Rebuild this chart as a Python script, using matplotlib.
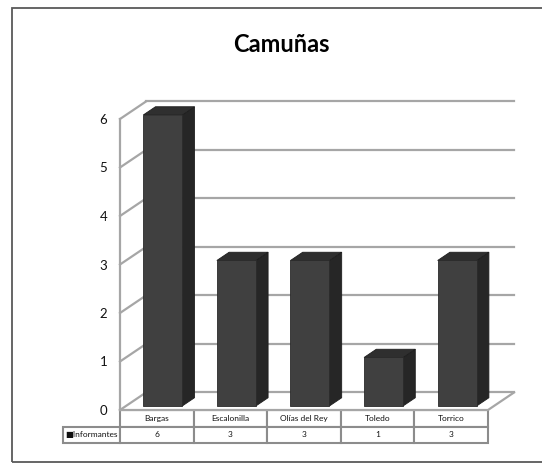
import numpy as np
import matplotlib.pyplot as plt
from matplotlib.patches import Polygon, Rectangle
from matplotlib.lines import Line2D

# datos
pueblos = ['Bargas', 'Escalonilla', 'Olías del Rey', 'Toledo', 'Torrico']
informantes = [6, 3, 3, 1, 3]
serie = 'Informantes'
titulo = 'Camuñas'
ymax = 6

plt.rcParams['font.family'] = ['Lato', 'DejaVu Sans']

W, H = 542, 466
fig = plt.figure(figsize=(W / 100, H / 100), dpi=100)

# ejes del plano frontal (en pixeles de la figura)
x0, x1, y0, y1 = 120, 488, 410, 119
ax = fig.add_axes([x0 / W, 1 - y0 / H, (x1 - x0) / W, (y0 - y1) / H])
n = len(pueblos)
ax.set_xlim(0, n)
ax.set_ylim(0, ymax)
for s in ax.spines.values():
    s.set_visible(False)
ax.set_xticks([])
ax.set_yticks(range(ymax + 1))
ax.tick_params(axis='y', length=0, pad=9, labelsize=9.5, labelcolor='#111111')

# desplazamiento de profundidad (perspectiva oblicua)
ddx, ddy = 0.353, 0.361
def p(u, v, d):
    return (u + d * ddx, v + d * ddy)

gris = '#a6a6a6'
lw = 1.6

# pared del fondo, pared izquierda y suelo
ax.add_patch(Polygon([p(0, 0, 1), p(n, 0, 1), p(n, ymax, 1), p(0, ymax, 1)],
                     closed=True, fc='white', ec='none', clip_on=False, zorder=1))
ax.add_patch(Polygon([p(0, 0, 0), p(n, 0, 0), p(n, 0, 1), p(0, 0, 1)],
                     closed=True, fc='white', ec='none', clip_on=False, zorder=1))
for v in range(ymax + 1):
    a, b = p(0, v, 1), p(n, v, 1)
    ax.add_line(Line2D([a[0], b[0]], [a[1], b[1]], color=gris, lw=lw, clip_on=False, zorder=2))
    a, b = p(0, v, 0), p(0, v, 1)
    ax.add_line(Line2D([a[0], b[0]], [a[1], b[1]], color=gris, lw=lw, clip_on=False, zorder=2))
ax.add_line(Line2D([0, 0], [0, ymax], color=gris, lw=lw, clip_on=False, zorder=2))
a, b = p(n, 0, 0), p(n, 0, 1)
ax.add_line(Line2D([0, n, b[0]], [0, 0, b[1]], color=gris, lw=lw, clip_on=False, zorder=2))

# columnas 3D
ancho = 0.53
df, db = 0.23, 0.70
for i, h in enumerate(informantes):
    u0 = i + 0.5 - ancho / 2
    u1 = u0 + ancho
    frente = [p(u0, 0, df), p(u1, 0, df), p(u1, h, df), p(u0, h, df)]
    lado = [p(u1, 0, df), p(u1, 0, db), p(u1, h, db), p(u1, h, df)]
    tapa = [p(u0, h, df), p(u1, h, df), p(u1, h, db), p(u0, h, db)]
    ax.add_patch(Polygon(lado, closed=True, fc='#262626', ec='#1e1e1e', lw=0.6, clip_on=False, zorder=3))
    ax.add_patch(Polygon(tapa, closed=True, fc='#2f2f2f', ec='#1e1e1e', lw=0.6, clip_on=False, zorder=3))
    ax.add_patch(Polygon(frente, closed=True, fc='#404040', ec='#2a2a2a', lw=0.6, clip_on=False, zorder=4))

# tabla de datos (la columna de rotulos queda a la izquierda del bbox)
ancho_rot = (x0 - 63) / (x1 - x0)
th = (443 - y0) / (y0 - y1)
tabla = ax.table(cellText=[[str(v) for v in informantes]],
                 rowLabels=['\u25a0' + serie], colLabels=pueblos,
                 cellLoc='center', rowLoc='left',
                 colWidths=[1 / n] * n,
                 bbox=[0, -th, 1, th])
tabla[(1, -1)].set_width(ancho_rot)
tabla.auto_set_font_size(False)
for (r, c), celda in tabla.get_celld().items():
    celda.set_edgecolor('#8c8c8c')
    celda.set_linewidth(1.5)
    celda.get_text().set_fontsize(6)
    celda.get_text().set_color('#111111')
    celda.PAD = 0.04

# titulo
fig.text(281 / W, 1 - 45 / H, titulo, ha='center', va='center',
         fontsize=17, fontweight='bold', color='black')

# borde del area del grafico
fig.add_artist(Rectangle((12 / W, 1 - 462 / H), 1.2, (462 - 8) / H,
                         transform=fig.transFigure, fc='none', ec='#595959', lw=1.3))

fig.savefig('out.png', dpi=100)
